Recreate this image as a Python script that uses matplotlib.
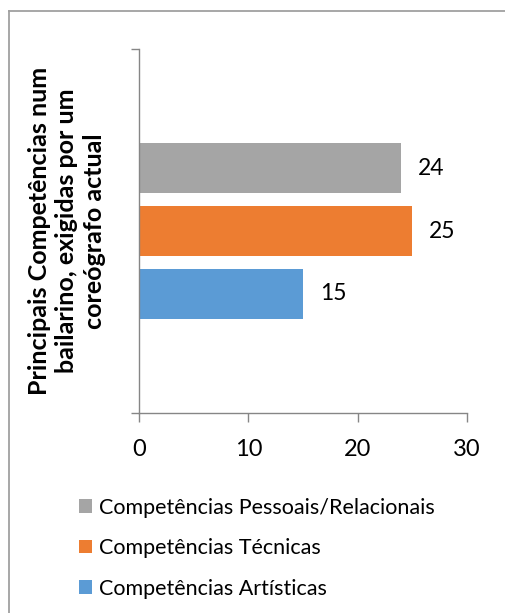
import matplotlib
matplotlib.use("Agg")
import matplotlib.pyplot as plt
from matplotlib.lines import Line2D
from matplotlib.patches import Patch

plt.rcParams["font.family"] = ["Lato", "DejaVu Sans"]

# one category, three series (top to bottom)
series = ["Competências Pessoais/Relacionais", "Competências Técnicas", "Competências Artísticas"]
values = [24, 25, 15]
colors = ["#A5A5A5", "#ED7D31", "#5B9BD5"]
ylabel = "Principais Competências num\nbailarino, exigidas por um\ncoreógrafo actual"
xticks = [0, 10, 20, 30]

W, H = 505, 613
fig = plt.figure(figsize=(W / 100, H / 100), dpi=100)
ax = fig.add_axes([139 / W, 1 - 413 / H, (467 - 139) / W, (413 - 49) / H])

axis_gray = "#868686"
step = 0.173
bar_h = 0.137
ypos = [step, 0, -step]
bars = ax.barh(ypos, values, height=bar_h, color=colors)
ax.bar_label(bars, labels=[str(v) for v in values], padding=12, fontsize=16.5)

ax.set_xlim(0, 30)
ax.set_ylim(-0.5, 0.5)
ax.set_xticks(xticks)
ax.set_yticks([-0.5, 0.5])
ax.set_yticklabels([])
ax.tick_params(axis="x", direction="out", length=6.5, width=1, color=axis_gray,
               labelsize=17, pad=12)
ax.tick_params(axis="y", direction="out", length=6, width=1, color=axis_gray)
for s in ["top", "right"]:
    ax.spines[s].set_visible(False)
for s in ["left", "bottom"]:
    ax.spines[s].set_color(axis_gray)
    ax.spines[s].set_linewidth(1)

fig.text(67 / W, 1 - 231 / H, ylabel, rotation=90, ha="center", va="center",
         multialignment="center", fontsize=18, fontweight="bold", linespacing=1.25)

handles = [Patch(facecolor=c, edgecolor="none") for c in colors]
fig.legend(handles, series, loc="upper left", bbox_to_anchor=(70 / W, 1 - 489 / H),
           frameon=False, fontsize=15.5, handlelength=0.6, handleheight=0.6,
           handletextpad=0.35, labelspacing=0.95, borderaxespad=0)

# outer chart frame (left and top edges visible)
frame = "#a0a0a0"
fig.add_artist(Line2D([8.5 / W, 8.5 / W], [0, 1 - 11 / H], color=frame, lw=1.3))
fig.add_artist(Line2D([8.5 / W, 1], [1 - 11 / H, 1 - 11 / H], color=frame, lw=1.3))

fig.savefig("out.png", dpi=100)
